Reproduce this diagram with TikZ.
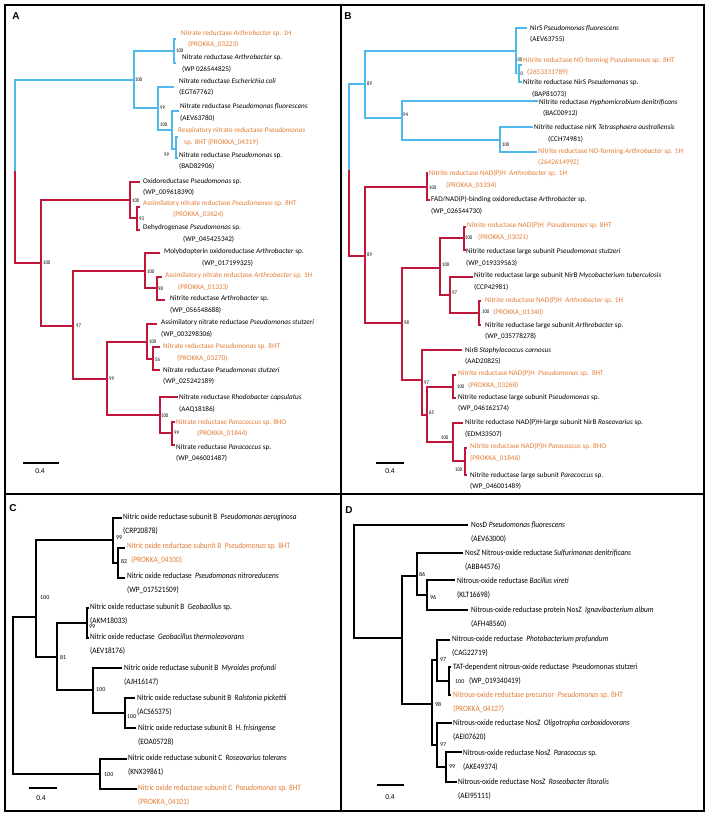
\documentclass[tikz,border=0pt]{standalone}
\usepackage{fontspec}
\setmainfont{Carlito}
\newfontfamily\headfont{Liberation Sans}
\newfontfamily\narrowfont[FakeStretch=0.89]{Carlito}
\newfontfamily\tinyfont[FakeStretch=0.85]{Carlito}
\definecolor{cladeblue}{RGB}{79,185,236}
\definecolor{cladered}{RGB}{192,22,58}
\definecolor{ownstrain}{RGB}{228,124,52}
\tikzset{
	bbr/.style={cladeblue, line width=1.7pt},
	rbr/.style={cladered, line width=1.7pt},
	kbr/.style={black, line width=1.5pt},
	frame/.style={black, line width=1.4pt},
	lbl/.style={anchor=west, align=left, inner sep=0pt},
	alb/.style={lbl, font=\fontsize{7.2}{11.4}\selectfont},
	blb/.style={lbl, font=\fontsize{7.2}{11.8}\selectfont},
	clb/.style={lbl, font=\narrowfont\fontsize{8.2}{13.6}\selectfont},
	org/.style={text=ownstrain},
	boot/.style={anchor=west, inner sep=0pt, font=\tinyfont\fontsize{5.5}{5.5}\selectfont},
	cboot/.style={anchor=west, inner sep=0pt, font=\fontsize{6}{6}\selectfont},
	panel/.style={inner sep=0pt, font=\headfont\bfseries\fontsize{10}{10}\selectfont},
	sbar/.style={black, line width=1.2pt},
	slbl/.style={inner sep=0pt, font=\fontsize{7.5}{7.5}\selectfont}
}
\def\taxon[#1](#2)(#3)(#4)#5{\coordinate (#2) at (#3); \node[#1] (#2t) at (#4) {#5};}
\def\cladepoint[#1](#2)(#3)(#4)#5{\coordinate (#2) at (#3); \node[#1] (#2b) at (#4) {#5};}

\begin{document}
\begin{tikzpicture}[x=1pt, y=-1pt]
			%%%%% START %%%%%
			\useasboundingbox (0,0) rectangle (708,815);
			\fill[white] (0,0) rectangle (708,815);
			
			\draw[frame] (5,5) rectangle (704,811);
			\draw[frame] (341,5) -- (341,811);
			\draw[frame] (5,494) -- (704,494);
			\node[panel] (pa) at (16,16) {A};
			\node[panel] (pb) at (348,16) {B};
			\node[panel] (pc) at (13,508) {C};
			\node[panel] (pd) at (349,510) {D};
			
			%%%%% A %%%%%
			\taxon[alb,org](a1)(176,39)(181,39){Nitrate reductase \textit{Arthrobacter} sp. 1H\\\hspace*{7pt}(PROKKA\_03223)}
			\taxon[alb](a2)(176,63)(182,63.5){Nitrate reductase \textit{Arthrobacter} sp.\\(WP 026544825)}
			\taxon[alb](a3)(174,87)(179,87){Nitrate reductase \textit{Escherichia coli}\\(EGT67762)}
			\taxon[alb](a4)(179,111)(180,112.5){Nitrate reductase \textit{Pseudomonas fluorescens}\\(AEV63780)}
			\taxon[alb,org](a5)(178,137)(178,136.5){Respiratory nitrate reductase \textit{Pseudomonas}\\\hspace*{6pt}sp. 8HT (PROKKA\_04319)}
			\taxon[alb](a6)(178,158)(179,161){Nitrate reductase \textit{Pseudomonas} sp.\\(BAD82906)}
			\taxon[alb](a7)(140,182)(143,187){Oxidoreductase \textit{Pseudomonas} sp.\\(WP\_009618390)}
			\taxon[alb,org](a8)(140,207)(143,209){Assimilatory nitrate reductase \textit{Pseudomonas} sp. 8HT\\\hspace*{30pt}(PROKKA\_03624)}
			\taxon[alb](a9)(140,230)(143,233.5){Dehydrogenase \textit{Pseudomonas} sp.\\\hspace*{40pt}(WP\_045425342)}
			\taxon[alb](a10)(160,253)(164,257.5){Molybdopterin oxidoreductase \textit{Arthrobacter} sp.\\\hspace*{38pt}(WP\_017199325)}
			\taxon[alb,org](a11)(162,277)(165,281.5){Assimilatory nitrate reductase \textit{Arthrobacter} sp. 1H\\\hspace*{13pt}(PROKKA\_01333)}
			\taxon[alb](a12)(165,300)(170,304.5){Nitrite reductase \textit{Arthrobacter} sp.\\(WP\_056548688)}
			\taxon[alb](a13)(157,324)(161,328.5){Assimilatory nitrate reductase \textit{Pseudomonas stutzeri}\\(WP\_003298306)}
			\taxon[alb,org](a14)(160,347)(163,352.5){Nitrate reductase \textit{Pseudomonas} sp. 8HT\\\hspace*{14pt}(PROKKA\_03270)}
			\taxon[alb](a15)(160,370)(163,376){Nitrate reductase \textit{Pseudomonas stutzeri}\\(WP\_025242189)}
			\taxon[alb](a16)(178,397)(179,403.5){Nitrate reductase \textit{Rhodobacter capsulatus}\\(AAQ18186)}
			\taxon[alb,org](a17)(175,422)(176,428){Nitrate reductase \textit{Paracoccus} sp. 8HO\\\hspace*{21pt}(PROKKA\_01844)}
			\taxon[alb](a18)(175,445)(176,453){Nitrate reductase \textit{Paracoccus} sp.\\(WP\_046001487)}
			
			\coordinate (a0) at (15,171);
			\cladepoint[boot](an1)(134,80)(135,80){100}
			\cladepoint[boot](an2)(174,51)(176,51){100}
			\cladepoint[boot](an3)(158,108)(160,108){99}
			\cladepoint[boot](an4)(172,130)(160,125){100}
			\cladepoint[boot](an5)(176,149)(164,155){99}
			\cladepoint[boot](ar1)(41,263)(43,263){100}
			\cladepoint[boot](ar2)(130,200)(132,201){100}
			\cladepoint[boot](ar3)(137,218)(139,219){93}
			\cladepoint[boot](ar4)(73,326)(76,326){97}
			\cladepoint[boot](ar5)(145,271)(147,272){100}
			\cladepoint[boot](ar6)(157,288)(158,289){98}
			\cladepoint[boot](ar7)(107,379)(109,379){99}
			\cladepoint[boot](ar8)(147,342)(149,342){100}
			\cladepoint[boot](ar9)(153,359)(155,360){56}
			\cladepoint[boot](ar10)(160,415)(161,416){100}
			\cladepoint[boot](ar11)(172,433)(174,433){99}
			
			\draw[bbr] (a0) |- (an1);
			\draw[rbr] (a0) |- (ar1);
			\draw[bbr] (an1) |- (an2) (an1) |- (an3);
			\draw[bbr] (an2) |- (a1) (an2) |- (a2);
			\draw[bbr] (an3) |- (a3) (an3) |- (an4);
			\draw[bbr] (an4) |- (a4) (an4) |- (an5);
			\draw[bbr] (an5) |- (a5) (an5) |- (a6);
			\draw[rbr] (ar1) |- (ar2) (ar1) |- (ar4);
			\draw[rbr] (ar2) |- (a7) (ar2) |- (ar3);
			\draw[rbr] (ar3) |- (a8) (ar3) |- (a9);
			\draw[rbr] (ar4) |- (ar5) (ar4) |- (ar7);
			\draw[rbr] (ar5) |- (a10) (ar5) |- (ar6);
			\draw[rbr] (ar6) |- (a11) (ar6) |- (a12);
			\draw[rbr] (ar7) |- (ar8) (ar7) |- (ar10);
			\draw[rbr] (ar8) |- (a13) (ar8) |- (ar9);
			\draw[rbr] (ar9) |- (a14) (ar9) |- (a15);
			\draw[rbr] (ar10) |- (a16) (ar10) |- (ar11);
			\draw[rbr] (ar11) |- (a17) (ar11) |- (a18);
			
			\coordinate (sa1) at (23,463);
			\coordinate (sa2) at (59,463);
			\draw[sbar] (sa1) -- (sa2);
			\node[slbl] (sal) at (40,471) {0.4};
			
			%%%%% B %%%%%
			\taxon[blb](b1)(527,28)(530,34){NirS \textit{Pseudomonas fluorescens}\\(AEV63755)}
			\taxon[blb,org](b2)(522,65)(523,66.5){Nitrite reductase NO-forming \textit{Pseudomonas} sp. 8HT\\\hspace*{4pt}(2653331789)}
			\taxon[blb](b3)(522,82)(523,88.5){Nitrite reductase NirS \textit{Pseudomonas} sp.\\\hspace*{9pt}(BAP81073)}
			\taxon[blb](b4)(538,101)(539,108){Nitrite reductase \textit{Hyphomicrobium denitrificans}\\\hspace*{4pt}(BAC00912)}
			\taxon[blb](b5)(533,127)(534,133.5){Nitrite reductase nirK \textit{Tetrasphaera australiensis}\\\hspace*{14pt}(CCH74981)}
			\taxon[blb,org](b6)(537,152)(538,157){Nitrite reductase NO-forming \textit{Arthrobacter} sp. 1H\\(2642614992)}
			\taxon[blb,org](b7)(428,173)(429,179){Nitrite reductase NAD(P)H\ \ \textit{Arthrobacter} sp. 1H\\\hspace*{17pt}(PROKKA\_01334)}
			\taxon[blb](b8)(430,200)(431,205.5){FAD/NAD(P)-binding oxidoreductase \textit{Arthrobacter} sp.\\(WP\_026544730)}
			\taxon[blb,org](b9)(466,227)(467,231){Nitrite reductase NAD(P)H\ \ \textit{Pseudomonas} sp. 8HT\\\hspace*{11pt}(PROKKA\_03021)}
			\taxon[blb](b10)(466,250)(466,257.5){Nitrite reductase large subunit \textit{Pseudomonas stutzeri}\\(WP\_019339563)}
			\taxon[blb](b11)(473,277)(474,281.5){Nitrite reductase large subunit NirB \textit{Mycobacterium tuberculosis}\\(CCP42981)}
			\taxon[blb,org](b12)(481,301)(485,306.5){Nitrite reductase NAD(P)H\ \ \textit{Arthrobacter} sp. 1H\\\hspace*{8pt}(PROKKA\_01340)}
			\taxon[blb](b13)(481,325)(485,331){Nitrite reductase large subunit \textit{Arthrobacter} sp.\\(WP\_035778278)}
			\taxon[blb](b14)(462,350)(465,356){NirB \textit{Staphylococcus carnosus}\\(AAD20825)}
			\taxon[blb,org](b15)(456,375)(458,379){Nitrite reductase NAD(P)H\ \ \textit{Pseudomonas} sp.\ \ 8HT\\\hspace*{10pt}(PROKKA\_03268)}
			\taxon[blb](b16)(456,398)(458,403){Nitrite reductase large subunit \textit{Pseudomonas} sp.\\(WP\_046162174)}
			\taxon[blb](b17)(463,423)(465,428.5){Nitrite reductase NAD(P)H-large subunit NirB \textit{Roseovarius} sp.\\(EDM33507)}
			\taxon[blb,org](b18)(467,448)(470,452.5){Nitrite reductase NAD(P)H \textit{Paracoccus} sp. 8HO\\(PROKKA\_01846)}
			\taxon[blb](b19)(467,475)(470,481){Nitrite reductase large subunit \textit{Paracoccus} sp.\\(WP\_046001489)}
			
			\coordinate (b0) at (349,170);
			\cladepoint[boot](bn1)(365,84)(367,84){89}
			\cladepoint[boot](bn2)(516,51)(515,60){100}
			\cladepoint[boot](bn3)(519,73.5)(518,74){80}
			\cladepoint[boot](bn4)(402,118)(403,115){94}
			\cladepoint[boot](bn5)(500,140)(502,145){100}
			\cladepoint[boot](brn1)(365,256)(367,255){89}
			\cladepoint[boot](brn2)(427,187)(429,188){100}
			\cladepoint[boot](brn3)(402,323)(404,323){98}
			\cladepoint[boot](brn4)(440,268)(442,265){100}
			\cladepoint[boot](brn6)(464,238)(465,238){100}
			\cladepoint[boot](brn7)(450,295)(452,293){97}
			\cladepoint[boot](brn8)(479,313)(482,312){100}
			\cladepoint[boot](brn5)(422,380)(424,383){97}
			\cladepoint[boot](brn9)(427,415)(429,413){65}
			\cladepoint[boot](brn10)(453,387)(457,387){100}
			\cladepoint[boot](brn11)(453,442)(441,438){100}
			\cladepoint[boot](brn12)(465,461)(455,470){100}
			
			\draw[bbr] (b0) |- (bn1);
			\draw[rbr] (b0) |- (brn1);
			\draw[bbr] (bn1) |- (bn2) (bn1) |- (bn4);
			\draw[bbr] (bn2) |- (b1) (bn2) |- (bn3);
			\draw[bbr] (bn3) |- (b2) (bn3) |- (b3);
			\draw[bbr] (bn4) |- (b4) (bn4) |- (bn5);
			\draw[bbr] (bn5) |- (b5) (bn5) |- (b6);
			\draw[rbr] (brn1) |- (brn2) (brn1) |- (brn3);
			\draw[rbr] (brn2) |- (b7) (brn2) |- (b8);
			\draw[rbr] (brn3) |- (brn4) (brn3) |- (brn5);
			\draw[rbr] (brn4) |- (brn6) (brn4) |- (brn7);
			\draw[rbr] (brn6) |- (b9) (brn6) |- (b10);
			\draw[rbr] (brn7) |- (b11) (brn7) |- (brn8);
			\draw[rbr] (brn8) |- (b12) (brn8) |- (b13);
			\draw[rbr] (brn5) |- (b14) (brn5) |- (brn9);
			\draw[rbr] (brn9) |- (brn10) (brn9) |- (brn11);
			\draw[rbr] (brn10) |- (b15) (brn10) |- (b16);
			\draw[rbr] (brn11) |- (b17) (brn11) |- (brn12);
			\draw[rbr] (brn12) |- (b18) (brn12) |- (b19);
			
			\coordinate (sb1) at (376,463);
			\coordinate (sb2) at (404,463);
			\draw[sbar] (sb1) -- (sb2);
			\node[slbl] (sbl) at (390,471) {0.4};
			
			%%%%% C %%%%%
			\taxon[clb](c1)(122,518)(123,524){Nitric oxide reductase subunit B\ \ \textit{Pseudomonas aeruginosa}\\(CRP20878)}
			\taxon[clb,org](c2)(125,548)(127,553.5){Nitric oxide reductase subunit B\ \ \textit{Pseudomonas} sp. 8HT\\\hspace*{4pt}(PROKKA\_04100)}
			\taxon[clb](c3)(125,578)(127,583.5){Nitric oxide reductase\ \ \textit{Pseudomonas nitroreducens}\\(WP\_017521509)}
			\taxon[clb](c4)(89,608)(90,614){Nitric oxide reductase subunit B\ \ \textit{Geobacillus} sp.\\(AKM18033)}
			\taxon[clb](c5)(89,638)(90,644){Nitric oxide reductase\ \ \textit{Geobacillus thermoleovorans}\\(AEV18176)}
			\taxon[clb](c6)(122,668)(124,675){Nitric oxide reductase subunit B\ \ \textit{Myroides profundi}\\(AJH16147)}
			\taxon[clb](c7)(135,698)(137,705){Nitric oxide reductase subunit B\ \ \textit{Ralstonia pickettii}\\(ACS65375)}
			\taxon[clb](c8)(136,728)(138,735){Nitric oxide reductase subunit B\ \ \textit{H. frisingense}\\(EOA05728)}
			\taxon[clb](c9)(127,759)(128,765){Nitric oxide reductase subunit C\ \ \textit{Roseovarius tolerans}\\(KNX39861)}
			\taxon[clb,org](c10)(137,789)(138,795){Nitric oxide reductase subunit C\ \ \textit{Pseudomonas} sp. 8HT\\(PROKKA\_04101)}
			
			\coordinate (c0) at (13,696);
			\cladepoint[cboot](cn1)(36,617)(40,598){100}
			\cladepoint[cboot](cn2)(113,540)(116,538){99}
			\cladepoint[cboot](cn3)(118,563)(121,561){82}
			\cladepoint[cboot](cn4)(57,657)(60,657){81}
			\cladepoint[cboot](cn5)(87,623)(89,627){99}
			\cladepoint[cboot](cn6)(93,690)(96,690){100}
			\cladepoint[cboot](cn7)(125,713)(127,717){100}
			\cladepoint[cboot](cn8)(100,774)(104,775){100}
			
			\draw[kbr] (c0) |- (cn1) (c0) |- (cn8);
			\draw[kbr] (cn1) |- (cn2) (cn1) |- (cn4);
			\draw[kbr] (cn2) |- (c1) (cn2) |- (cn3);
			\draw[kbr] (cn3) |- (c2) (cn3) |- (c3);
			\draw[kbr] (cn4) |- (cn5) (cn4) |- (cn6);
			\draw[kbr] (cn5) |- (c4) (cn5) |- (c5);
			\draw[kbr] (cn6) |- (c6) (cn6) |- (cn7);
			\draw[kbr] (cn7) |- (c7) (cn7) |- (c8);
			\draw[kbr] (cn8) |- (c9) (cn8) |- (c10);
			
			\coordinate (sc1) at (29,788);
			\coordinate (sc2) at (57,788);
			\draw[sbar] (sc1) -- (sc2);
			\node[slbl] (scl) at (41,798) {0.4};
			
			%%%%% D %%%%%
			\taxon[clb](d1)(468,525)(471,532){NosD \textit{Pseudomonas fluorescens}\\(AEV63000)}
			\taxon[clb](d2)(463,553)(465,560){NosZ Nitrous-oxide reductase \textit{Sulfurimonas denitrificans}\\(ABB44576)}
			\taxon[clb](d3)(455,580)(457,588){Nitrous-oxide reductase \textit{Bacillus vireti}\\(KLT16698)}
			\taxon[clb](d4)(468,610)(471,617){Nitrous-oxide reductase protein NosZ\ \ \textit{Ignavibacterium album}\\(AFH48560)}
			\taxon[clb](d5)(450,640)(452,646.5){Nitrous-oxide reductase\ \ \textit{Photobacterium profundum}\\(CAG22719)}
			\taxon[clb](d6)(451,667)(453,674.5){TAT-dependent nitrous-oxide reductase\ \ Pseudomonas stutzeri\\\hspace*{16pt}(WP\_019340419)}
			\taxon[clb,org](d7)(451,695)(453,702){Nitrous-oxide reductase precursor\ \ \textit{Pseudomonas} sp. 8HT\\(PROKKA\_04127)}
			\taxon[clb](d8)(452,723)(453,730.5){Nitrous-oxide reductase NosZ\ \ \textit{Oligotropha carboxidovorans}\\(AEI07620)}
			\taxon[clb](d9)(462,752)(463,760){Nitrous-oxide reductase NosZ\ \ \textit{Paracoccus} sp.\\(AKE49374)}
			\taxon[clb](d10)(457,782)(458,789){Nitrous-oxide reductase NosZ\ \ \textit{Roseobacter litoralis}\\(AEI95111)}
			
			\coordinate (d0) at (354,581);
			\coordinate (dn1) at (402,638);
			\cladepoint[cboot](dn2)(417,576)(419,574){86}
			\cladepoint[cboot](dn3)(427,595)(430,597){96}
			\cladepoint[cboot](dn4)(432,704)(435,704){98}
			\cladepoint[cboot](dn5)(437,660)(440,660){97}
			\cladepoint[cboot](dn6)(449,681)(455,682){100}
			\cladepoint[cboot](dn7)(437,745)(440,745){97}
			\cladepoint[cboot](dn8)(446,767)(449,767){99}
			
			\draw[kbr] (d0) |- (d1) (d0) |- (dn1);
			\draw[kbr] (dn1) |- (dn2) (dn1) |- (dn4);
			\draw[kbr] (dn2) |- (d2) (dn2) |- (dn3);
			\draw[kbr] (dn3) |- (d3) (dn3) |- (d4);
			\draw[kbr] (dn4) |- (dn5) (dn4) |- (dn7);
			\draw[kbr] (dn5) |- (d5) (dn5) |- (dn6);
			\draw[kbr] (dn6) |- (d6) (dn6) |- (d7);
			\draw[kbr] (dn7) |- (d8) (dn7) |- (dn8);
			\draw[kbr] (dn8) |- (d9) (dn8) |- (d10);
			
			\coordinate (sd1) at (377,785);
			\coordinate (sd2) at (404,785);
			\draw[sbar] (sd1) -- (sd2);
			\node[slbl] (sdl) at (390,797) {0.4};
			
			%%%%% END %%%%%
\end{tikzpicture}
\end{document}
